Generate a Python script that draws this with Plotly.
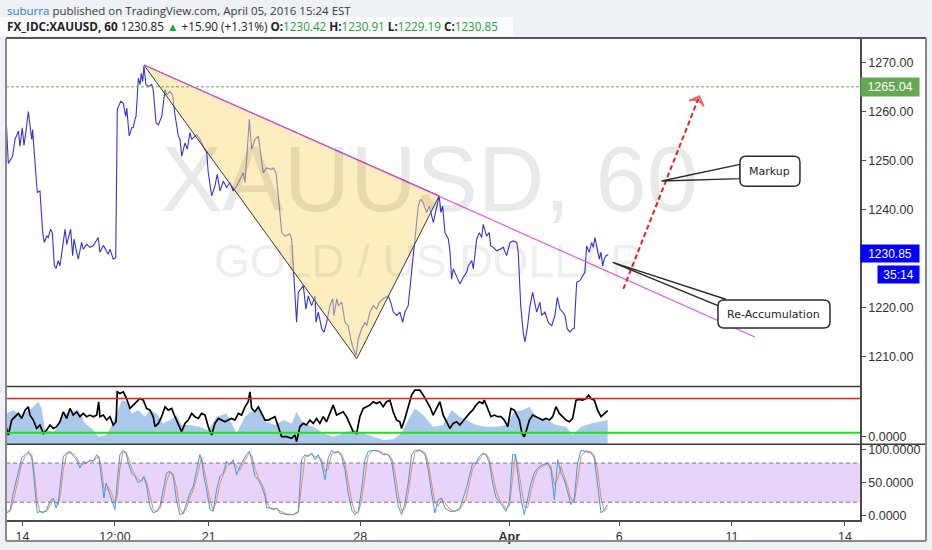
import plotly.graph_objects as go

# ---------------- data ----------------
# bar index (1 bar = 1 hour of trading) and XAUUSD close
price_bar = [0,1.5,4.3,5.8,8.0,9.0,10.5,11.6,12.9,14.4,
             16.6,17.2,17.6,19.2,20.2,21.9,23.7,24.7,26.3,27.3,
             28.8,29.9,31.2,32.3,33.7,34.8,35.9,38.1,39.2,41.7,
             43.0,43.9,45.2,46.6,48.8,49.9,52.1,54.2,56.3,59.5,
             60.6,62.8,66.0,67.1,69.2,70.8,71.8,74.0,75.7,77.2,
             77.9,79.5,81.1,82.1,83.2,83.9,85.4,86.5,87.3,88.2,
             89.0,90.3,91.8,94.0,95.0,96.8,98.3,99.4,100.5,102.6,
             103.7,105.8,107.5,109.0,111.2,112.3,113.4,115.5,117.0,118.7,
             119.8,123.0,125.2,127.3,129.5,130.5,132.7,134.8,136.3,138.1,
             140.2,142.4,144.5,146.6,148.8,151.0,153.1,154.2,155.3,157.0,
             158.5,160.6,162.8,164.3,166.0,168.2,171.4,172.5,174.2,175.7,
             177.9,180.0,183.2,184.3,185.4,187.5,188.6,190.8,191.8,193.5,
             195.0,197.2,199.4,200.0,201.5,203.7,205.2,206.9,209.0,210.8,
             211.6,213.4,214.4,216.6,218.7,220.8,222.4,224.1,225.8,227.3,
             229.5,231.6,232.7,234.8,237.0,239.2,240.8,243.4,246.6,248.2,
             249.9,252.1,254.2,255.9,257.4,259.5,261.7,263.9,266.0,267.5,
             269.2,271.4,273.1,275.7,277.2,279.5,280.6,281.7,283.2,284.3,
             285.4,286.5,287.5,288.6,290.8,292.9,295.0,297.2,298.3,300.5,
             301.5,303.7,305.4,306.9,307.9,310.1,311.8,312.7,314.4,316.6,
             318.7,320.8,323.0,325.2,327.3,329.5,330.5,332.1,333.7,334.8,
             336.3,338.1,339.8,341.3,342.4,344.5,345.6,347.7,349.9,352.1,
             354.2,355.7,357.4,359.2,360.6,362.1,363.9,365.6,366.6,368.2,
             370.3,372.1,373.5,374.6,376.3,377.9,378.9,380.0,381.5,382.8,
             383.9,385.0,386.0,387.1,388.6]
price_close = [1259.2,1249.4,1250.9,1254.3,1256.0,1252.9,1256.7,1253.1,1256.0,1260.0,
               1254.3,1256.3,1254.3,1246.2,1243.5,1243.8,1235.3,1233.3,1234.6,1234.3,
               1236.0,1235.3,1228.5,1228.0,1229.6,1228.5,1231.3,1236.0,1232.9,1236.0,
               1230.6,1234.0,1231.9,1229.9,1233.3,1231.9,1232.9,1232.3,1232.6,1234.3,
               1231.3,1232.7,1230.9,1231.9,1229.9,1230.2,1260.4,1262.1,1261.7,1259.0,
               1260.7,1255.0,1256.7,1256.7,1258.4,1259.0,1266.8,1265.5,1267.8,1266.1,
               1269.3,1265.5,1265.1,1265.5,1264.5,1257.7,1257.3,1258.0,1259.0,1264.5,
               1263.4,1264.1,1263.4,1259.4,1255.0,1254.3,1250.9,1253.6,1252.3,1255.7,
               1254.3,1255.3,1254.3,1252.9,1251.6,1247.5,1242.8,1244.8,1247.2,1243.8,
               1245.8,1244.5,1245.5,1243.8,1244.8,1246.2,1247.5,1245.5,1250.9,1258.4,
               1252.3,1254.3,1255.0,1250.9,1247.5,1248.5,1248.2,1248.5,1247.5,1242.8,
               1235.3,1234.6,1235.0,1234.0,1227.2,1217.0,1223.1,1224.1,1224.5,1219.7,
               1222.4,1220.4,1222.4,1217.0,1219.1,1215.7,1215.0,1217.0,1220.4,1221.8,
               1218.4,1221.8,1220.4,1221.1,1217.0,1216.3,1213.6,1211.6,1210.2,1213.6,
               1215.7,1217.0,1216.3,1219.1,1220.4,1219.7,1221.1,1221.8,1222.4,1221.1,
               1219.1,1218.4,1219.1,1217.0,1219.1,1220.4,1227.2,1234.0,1240.7,1242.1,
               1241.4,1239.4,1240.7,1237.4,1239.4,1242.8,1239.4,1240.7,1235.3,1234.6,
               1234.0,1231.3,1225.8,1227.9,1226.2,1224.8,1226.2,1227.2,1228.5,1229.6,
               1227.9,1234.0,1235.3,1234.3,1237.0,1234.6,1235.3,1232.6,1232.3,1231.6,
               1231.9,1232.3,1230.6,1233.3,1233.6,1233.3,1231.3,1220.4,1215.0,1213.0,
               1215.7,1220.4,1223.1,1220.4,1219.1,1221.1,1218.4,1219.1,1217.0,1216.3,
               1218.4,1222.1,1219.7,1219.1,1218.4,1215.7,1215.0,1215.7,1215.7,1225.2,
               1225.5,1226.5,1227.2,1232.6,1231.3,1233.3,1232.3,1234.3,1231.9,1229.9,
               1231.3,1228.5,1229.9,1230.6,1230.85]

# triangle drawing (apex, low, retest) and trend line
tri_bar = [89.0, 226.3, 279.5, 89.0]
tri_price = [1269.5, 1209.6, 1242.8, 1269.5]
trend_bar = [89.0, 483.2]
trend_price = [1269.5, 1214.0]
arrow_bar = [398.3, 447.3]
arrow_price = [1223.8, 1263.1]
level_price = 1265.04
last_price = 1230.85

# oscillator pane 1 (black line + blue area)
rsi_bar = [0,1.5,3.7,5.8,8.0,10.1,12.3,14.4,15.5,17.6,19.8,21.9,24.1,26.2,28.4,30.5,32.7,34.8,
           37.0,39.1,41.3,43.4,45.6,47.7,49.9,52.0,54.2,56.3,58.5,59.8,60.6,62.8,64.9,67.1,69.2,
           71.0,71.8,73.5,75.7,77.8,80.0,82.1,84.3,86.4,88.6,90.7,92.9,95.0,96.1,98.3,100.4,102.6,
           104.7,106.9,109.0,111.2,113.3,115.5,117.6,119.8,121.9,124.1,126.2,128.4,130.5,132.7,
           134.8,137.0,139.1,141.3,143.4,145.6,147.7,149.9,152.0,154.2,156.3,157.4,158.5,160.6,
           162.8,164.9,167.1,169.2,171.4,173.5,175.7,177.8,181.0,184.3,186.4,187.5,189.6,191.8,
           193.9,196.1,198.2,200.4,202.5,204.7,206.8,209.0,211.1,213.3,215.4,217.6,219.7,221.9,
           224.0,226.2,228.3,230.5,232.6,234.8,236.9,239.1,241.2,243.4,245.5,247.7,249.8,252.0,
           254.1,255.2,257.4,259.5,261.7,263.8,267.0,269.2,271.3,273.5,275.6,277.8,279.9,282.1,
           284.2,286.4,288.5,290.7,292.8,296.8,299.0,301.1,303.3,305.4,307.6,308.6,310.8,312.9,
           315.1,317.2,319.4,321.5,323.7,325.8,328.0,330.1,331.2,332.9,334.4,335.5,337.7,339.8,
           342.0,344.1,346.3,348.4,350.6,352.7,354.9,357.0,359.2,361.3,363.5,365.6,367.8,369.9,
           372.1,374.2,375.9,377.4,379.6,381.7,383.9,386.0,388.2]
rsi_val = [37,27.3,44.8,48.7,52.6,46.7,56.4,60.3,50.6,44.8,35,39,29.2,33.1,39,35,37,42.8,
           54.5,46.7,58.4,50.6,54.5,48.7,52.6,48.7,50.6,48.7,50.6,66.2,48.7,50.6,44.8,48.7,39,
           42.8,77.8,75.9,77.8,70,58.4,62.3,66.2,70,68.1,58.4,56.4,48.7,37,40.9,48.7,60.3,
           56.4,58.4,48.7,39,31.2,40.9,44.8,52.6,48.7,46.7,52.6,50.6,37,27.3,
           40.9,46.7,44.8,42.8,44.8,46.7,44.8,52.6,50.6,60.3,66.2,77.8,58.4,54.5,
           60.3,52.6,44.8,44.8,46.7,48.7,37,25.3,25.3,23.4,27.3,19.5,37,40.9,
           39,44.8,40.9,46.7,40.9,48.7,42.8,52.6,62.3,50.6,52.6,54.5,48.7,39,
           31.2,29.2,48.7,58.4,60.3,62.3,66.2,64.2,66.2,60.3,66.2,68.1,54.5,44.8,
           42.8,35,46.7,60.3,74,79.8,79.8,74,68.1,60.3,50.6,58.4,66.2,50.6,
           42.8,35,40.9,42.8,39,48.7,52.6,56.4,62.3,66.2,64.2,68.1,58.4,48.7,
           50.6,48.7,48.7,44.8,37,58.4,56.4,48.7,44.8,29.2,25.3,31.2,44.8,50.6,
           48.7,46.7,44.8,46.7,44.8,48.7,60.3,52.6,48.7,44.8,42.8,46.7,68.1,68.9,
           68.1,70,74,70,68.1,56.4,48.7,52.6,55.7]
area_bar = [0,4.7,9.0,13.3,17.6,20.9,23.0,25.2,30.5,33.8,37.0,41.3,46.7,51.0,55.3,59.6,64.9,
            68.2,71.4,74.6,77.8,81.1,85.4,89.7,92.9,97.2,101.5,105.8,110.1,113.3,118.7,125.1,
            130.5,135.9,142.3,148.8,154.2,159.5,163.8,168.1,173.5,178.9,184.3,187.5,191.8,198.2,
            204.7,211.1,217.6,224.0,230.5,236.9,243.4,249.8,255.2,259.5,263.8,269.2,275.6,282.1,
            287.5,292.8,296.8,303.3,309.7,316.2,322.6,328.0,333.4,337.7,342.0,348.4,354.9,361.3,
            365.6,371.0,377.4,382.8,388.2]
area_val = [52.6,56.5,50.6,54.5,60.3,66.2,58.4,33.1,31.2,37,50.6,54.5,56.5,40.9,35,25.3,27.3,
            39,52.6,68.1,66.2,52.6,56.5,48.7,56.5,52.6,40.9,44.8,50.6,39,39,37,
            33.1,48.7,52.6,29.2,48.7,56.5,58.4,42.8,39,44.8,40.9,54.5,40.9,37,
            29.2,25.3,29.2,33.1,29.2,25.3,21.4,22.2,29.2,44.8,58.4,50.6,37,39,
            56.5,48.7,44.8,39,37,37,39,54.5,56.5,60.3,48.7,44.8,39,37,
            27.3,37,40.9,42.8,44.8]
rsi_upper, rsi_lower = 70, 30

# stochastic pane (%K blue, %D orange)
stoch_bar = [0.4,2.6,4.7,6.9,8.6,10.1,12.3,14.4,16.6,17.6,
             18.7,20.2,21.9,24.1,26.2,28.4,30.5,32.3,33.8,35.3,
             37.0,39.1,41.3,43.4,45.6,47.7,49.9,52.0,54.2,56.3,
             58.5,60.0,61.7,63.2,64.5,66.0,68.2,70.3,71.8,73.5,
             75.3,77.4,78.9,81.1,83.2,85.4,87.5,89.0,90.7,92.9,
             95.0,97.2,99.3,101.5,103.6,105.8,107.9,110.1,112.2,114.4,
             116.5,118.7,120.8,123.0,125.1,126.2,127.7,129.4,131.6,133.7,
             135.9,138.0,140.2,142.3,144.5,146.6,148.8,150.9,153.1,155.2,
             157.0,158.5,160.6,162.8,164.9,167.1,168.1,170.3,172.4,174.6,
             176.7,181.0,185.3,188.6,190.7,192.9,195.0,197.2,199.3,201.5,
             203.6,205.8,207.9,210.1,212.2,214.4,216.5,218.7,220.8,223.0,
             225.1,227.3,229.4,231.6,233.7,236.9,240.2,243.4,246.6,248.8,
             250.9,253.1,255.2,257.4,259.5,261.7,263.8,267.0,270.3,272.4,
             274.6,276.7,278.9,281.0,283.2,286.4,289.6,292.8,
             296.8,299.0,301.1,303.3,305.4,307.6,309.7,311.9,314.0,316.2,
             318.3,320.5,322.6,324.8,326.9,328.6,330.1,332.3,334.4,336.6,
             338.7,340.9,343.0,346.3,349.5,351.6,353.8,355.9,358.1,360.2,
             362.4,364.5,366.7,368.8,371.0,374.2,377.4,379.6,381.7,383.9,
             386.0,388.2]
stoch_k = [3.6,8.7,34,54.5,69.8,87.7,92.8,97.9,87.7,69.8,
           39.2,3.6,6.1,3.6,8.7,21.4,26.5,11.2,21.4,49.4,
           90.2,95.3,97.9,90.2,85.1,72.4,82.6,80,85.1,82.6,
           92.8,87.7,54.5,26.5,49.4,39.2,26.5,8.7,52,92.8,
           99.5,95.3,80,64.7,59.6,49.4,54.5,59.6,44.3,13.8,
           3.6,6.1,13.8,39.2,64.7,67.3,59.6,21.4,1,3.6,
           18.9,34.1,44.3,69.8,92.8,85.1,59.6,39.2,8.7,6.1,
           39.2,59.6,64.7,82.6,77.5,85.1,62.2,74.9,85.1,92.8,
           97.9,85.1,59.6,54.5,44.3,29.1,11.2,11.2,8.7,11.2,
           3.6,1,1,6.1,85.1,92.8,90.2,95.3,85.1,92.8,
           80,54.5,87.7,99.5,95.3,97.9,90.2,69.8,34.1,8.7,
           1,6.1,39.2,85.1,97.9,99.5,97.9,92.8,92.8,82.6,
           49.4,13.8,1,18.9,49.4,92.8,99.5,99.8,92.8,69.8,
           34.1,3.6,24,26.5,11.2,6.1,6.1,11.2,
           39.2,62.2,80,80,90.2,95.3,92.8,80,49.4,26.5,
           21.4,13.8,6.1,21.4,92.8,92.8,64.7,24,1,24,
           49.4,64.7,72.4,77.5,80,69.8,24,85.1,64.7,54.5,
           34.1,16.3,26.5,80,99.5,97.9,95.3,87.7,49.4,3.6,
           8.7,16.3]
stoch_d = [4,6,21,44,62,79,90,95,93,79,
           55,22,5,5,6,15,24,19,16,35,
           70,93,96,94,88,79,78,81,83,84,
           88,90,71,41,38,44,33,18,30,72,
           96,97,88,72,62,55,52,57,52,29,
           9,5,10,26,52,66,63,41,11,2,
           11,27,39,57,81,89,72,49,24,7,
           23,49,62,74,80,81,74,69,80,89,
           95,92,72,57,49,37,20,11,10,10,
           7,2,1,4,46,89,92,93,90,89,
           86,67,71,94,97,97,94,80,52,21,
           5,4,23,62,92,99,99,95,93,88,
           66,32,7,10,34,71,96,99.5,96,81,
           52,19,14,25,19,9,6,9,
           25,51,71,80,85,93,94,86,65,38,
           24,18,10,14,57,93,79,44,13,12,
           37,57,69,75,79,75,47,55,75,60,
           44,25,21,53,90,99,97,92,69,27,
           6,12]
stoch_upper, stoch_lower = 80, 20

# axis ticks (1230.00 sits under the last-price label in the original)
x_tick_bar = [10.6, 70.3, 130.8, 228.6, 324.7, 395.7, 468.4, 541.3]
x_tick_text = ["14", "12:00", "21", "28", "<b>Apr</b>", "6", "11", "14"]
price_ticks = [1210, 1220, 1240, 1250, 1260, 1270]
stoch_ticks = [0, 50, 100]

# ---------------- layout geometry ----------------
W, H = 932, 550
ML, MR, MT, MB = 6, 72, 38, 28
PW, PH = W - ML - MR, H - MT - MB


def px(x):
    return (x - ML) / PW


def py(y):
    return (H - MB - y) / PH


main_dom = [py(388), 1]
rsi_dom = [py(446), py(388)]
sto_dom = [0, py(446)]

FONT = "Liberation Sans, Arial, sans-serif"
CALLFONT = "DejaVu Sans, Verdana, sans-serif"
HDRFONT = "Open Sans, Noto Sans, sans-serif"

fig = go.Figure()

# main pane
fig.add_trace(go.Scatter(x=price_bar, y=price_close, mode="lines",
                         line=dict(color="#3434d8", width=1.1), xaxis="x", yaxis="y"))
fig.add_trace(go.Scatter(x=tri_bar, y=tri_price, mode="lines", fill="toself",
                         fillcolor="rgba(252,220,128,0.5)",
                         line=dict(color="#3a3a3a", width=1), xaxis="x", yaxis="y"))
fig.add_trace(go.Scatter(x=trend_bar, y=trend_price, mode="lines",
                         line=dict(color="#e650e6", width=1.1), xaxis="x", yaxis="y"))
fig.add_trace(go.Scatter(x=arrow_bar, y=arrow_price, mode="lines+markers",
                         line=dict(color="#e8232b", width=2, dash="5px,3px"),
                         marker=dict(size=[0, 11], symbol=["circle", "arrow-wide-open"],
                                     angleref="previous", color="#e8232b",
                                     line=dict(color="#e8232b", width=2)),
                         xaxis="x", yaxis="y"))

# oscillator pane
fig.add_trace(go.Scatter(x=area_bar, y=area_val, mode="lines", fill="tozeroy",
                         fillcolor="rgba(120,170,222,0.62)", line=dict(width=0),
                         xaxis="x", yaxis="y2"))
fig.add_trace(go.Scatter(x=rsi_bar, y=rsi_val, mode="lines",
                         line=dict(color="#000000", width=1.7), xaxis="x", yaxis="y2"))

# stochastic pane
fig.add_trace(go.Scatter(x=stoch_bar, y=stoch_d, mode="lines",
                         line=dict(color="#f08a52", width=1), xaxis="x", yaxis="y3"))
fig.add_trace(go.Scatter(x=stoch_bar, y=stoch_k, mode="lines",
                         line=dict(color="#3a9bea", width=1), xaxis="x", yaxis="y3"))

shapes = []
# white chart frame on grey page
shapes.append(dict(type="rect", xref="paper", yref="paper", x0=px(6), x1=px(926),
                   y0=py(543), y1=py(38), fillcolor="white", line=dict(width=0), layer="below"))
shapes.append(dict(type="rect", xref="paper", yref="paper", x0=px(0), x1=px(513),
                   y0=py(36), y1=py(17), fillcolor="rgba(255,255,255,0.75)",
                   line=dict(width=0), layer="below"))
# stochastic band and levels
shapes.append(dict(type="rect", xref="paper", yref="y3", x0=0, x1=1, y0=stoch_lower,
                   y1=stoch_upper, fillcolor="#e8d4fa", line=dict(width=0), layer="below"))
for lv in (stoch_upper, stoch_lower):
    shapes.append(dict(type="line", xref="paper", yref="y3", x0=0, x1=1, y0=lv, y1=lv,
                       line=dict(color="#7f7390", width=1, dash="4px,3px")))
# oscillator levels
shapes.append(dict(type="line", xref="paper", yref="y2", x0=0, x1=1, y0=rsi_upper,
                   y1=rsi_upper, line=dict(color="#ff1a1a", width=1.6)))
shapes.append(dict(type="line", xref="paper", yref="y2", x0=0, x1=1, y0=rsi_lower,
                   y1=rsi_lower, line=dict(color="#22dd22", width=2)))
# price level
shapes.append(dict(type="line", xref="paper", yref="y", x0=0, x1=1, y0=level_price,
                   y1=level_price, line=dict(color="#6aa84f", width=1, dash="3px,2px")))
# pane separators
shapes.append(dict(type="line", xref="paper", yref="paper", x0=0, x1=1, y0=py(388),
                   y1=py(388), line=dict(color="#3c3c3c", width=1.5)))
shapes.append(dict(type="line", xref="paper", yref="paper", x0=0, x1=px(926), y0=py(446),
                   y1=py(446), line=dict(color="#3c3c3c", width=1.5)))
# outer frame
shapes.append(dict(type="line", xref="paper", yref="paper", x0=px(6), x1=px(926), y0=1, y1=1,
                   line=dict(color="#555555", width=2)))
shapes.append(dict(type="line", xref="paper", yref="paper", x0=px(6), x1=px(926),
                   y0=py(543), y1=py(543), line=dict(color="#888888", width=2)))
shapes.append(dict(type="line", xref="paper", yref="paper", x0=px(6), x1=px(6),
                   y0=py(543), y1=1, line=dict(color="#888888", width=2)))
shapes.append(dict(type="line", xref="paper", yref="paper", x0=px(926), x1=px(926),
                   y0=py(543), y1=1, line=dict(color="#888888", width=2)))


def rounded_box(w, h, r):
    a, b = w / 2, h / 2
    return (f"M {-a + r},{b} L {a - r},{b} Q {a},{b} {a},{b - r} L {a},{-b + r} "
            f"Q {a},{-b} {a - r},{-b} L {-a + r},{-b} Q {-a},{-b} {-a},{-b + r} "
            f"L {-a},{b - r} Q {-a},{b} {-a + r},{b} Z")


callouts = [
    # text, anchor bar, anchor price, box w, h, wedge (base1, tip, base2) in px
    ("Markup", 492.9, 1247.8, 60, 30, ((-30, 7), (-108.3, -9.7), (-30, -7.3))),
    ("Re-Accumulation", 495.5, 1218.7, 112, 28, ((-49, 15), (-161.3, 51.7), (-56, 8.3))),
]
annotations = []
for text, bx, by, w, h, wedge in callouts:
    (x1, y1), (xt, yt), (x2, y2) = wedge
    shapes.append(dict(type="path", xref="x", yref="y", xsizemode="pixel", ysizemode="pixel",
                       xanchor=bx, yanchor=by,
                       path=f"M {x1},{y1} L {xt},{yt} L {x2},{y2} Z",
                       fillcolor="white", line=dict(color="#2b2b2b", width=1.4)))
    shapes.append(dict(type="path", xref="x", yref="y", xsizemode="pixel", ysizemode="pixel",
                       xanchor=bx, yanchor=by, path=rounded_box(w, h, 6),
                       fillcolor="white", line=dict(color="#2b2b2b", width=1.5)))
    annotations.append(dict(x=bx, y=by, xref="x", yref="y", text=text, showarrow=False,
                            font=dict(family=CALLFONT, size=11, color="#1e1e1e")))

# watermark
annotations.append(dict(x=273.0, y=1246.3, xref="x", yref="y", text="XAUUSD, 60",
                        showarrow=False, font=dict(family=FONT, size=92,
                                                   color="rgba(0,0,0,0.085)")))
annotations.append(dict(x=272.9, y=1229.6, xref="x", yref="y", text="GOLD / US DOLLAR",
                        showarrow=False, font=dict(family=FONT, size=46,
                                                   color="rgba(0,0,0,0.085)")))

# price labels on the right scale
annotations.append(dict(x=1, y=level_price, xref="paper", yref="y", xanchor="left",
                        text=f"{level_price:.2f}", showarrow=False, bgcolor="#64a851",
                        width=56, height=16, borderpad=1,
                        font=dict(family=FONT, size=12.5, color="white")))
annotations.append(dict(x=1, y=last_price, xref="paper", yref="y", xanchor="left",
                        yshift=1, text=f"{last_price:.2f}", showarrow=False,
                        bgcolor="#0000ff", width=56, height=15, borderpad=1,
                        font=dict(family=FONT, size=12, color="white")))
annotations.append(dict(x=1, y=last_price, xref="paper", yref="y", xanchor="left",
                        xshift=17, yshift=-20, text="35:14", showarrow=False,
                        bgcolor="#0000ff", width=39, height=15, borderpad=1,
                        font=dict(family=FONT, size=12, color="white")))

# header
GREEN = "#25a03a"
annotations.append(dict(
    x=px(5), y=py(10), xref="paper", yref="paper", xanchor="left", yanchor="middle",
    showarrow=False,
    text="<span style='color:#2f7fd0'>suburra</span> published on TradingView.com, "
         "April 05, 2016 15:24 EST",
    font=dict(family=HDRFONT, size=11.5, color="#3a3a3a")))
annotations.append(dict(
    x=px(5), y=py(26), xref="paper", yref="paper", xanchor="left", yanchor="middle",
    showarrow=False,
    text=("<b>FX_IDC:XAUUSD, 60</b> 1230.85 "
          f"<span style='color:{GREEN}'>▲</span> +15.90 (+1.31%) "
          f"<b>O:</b><span style='color:{GREEN}'>1230.42</span> "
          f"<b>H:</b><span style='color:{GREEN}'>1230.91</span> "
          f"<b>L:</b><span style='color:{GREEN}'>1229.19</span> "
          f"<b>C:</b><span style='color:{GREEN}'>1230.85</span>"),
    font=dict(family=HDRFONT, size=11.7, color="#222222")))

axis_common = dict(side="right", anchor="x", showgrid=False, zeroline=False,
                   showline=True, linecolor="#4a4a4a", linewidth=1.5, ticks="outside",
                   ticklen=4, tickcolor="#4a4a4a",
                   tickfont=dict(family=FONT, size=12.5, color="#333333"))

fig.update_layout(
    width=W, height=H,
    margin=dict(l=ML, r=MR, t=MT, b=MB),
    paper_bgcolor="#eef1f6", plot_bgcolor="white",
    showlegend=False,
    shapes=shapes, annotations=annotations,
    xaxis=dict(domain=[0, 1], anchor="y3", range=[0, 551], showgrid=False, zeroline=False,
               showline=True, linecolor="#4a4a4a", linewidth=1.5, ticks="outside",
               ticklen=4, tickcolor="#4a4a4a", tickvals=x_tick_bar, ticktext=x_tick_text,
               tickfont=dict(family=FONT, size=12.5, color="#333333")),
    yaxis=dict(domain=main_dom, range=[1203.9, 1275.0], tickvals=price_ticks,
               tickformat=".2f", **axis_common),
    yaxis2=dict(domain=rsi_dom, range=[16.4, 84], tickvals=[25], ticktext=["0.0000"],
                **axis_common),
    yaxis3=dict(domain=sto_dom, range=[-7.2, 108.7], tickvals=stoch_ticks,
                tickformat=".4f", **axis_common),
)

fig.write_html("out.html", config={"displayModeBar": False},
               post_script="document.body.style.margin='0';"
                           "document.body.style.overflow='hidden';")
